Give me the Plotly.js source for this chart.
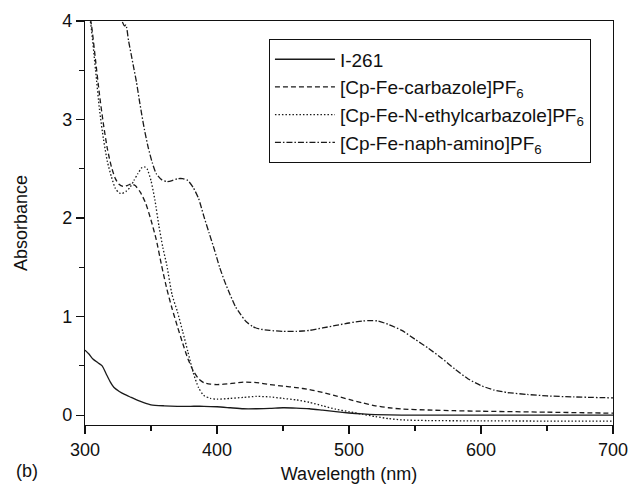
<!DOCTYPE html>
<html>
<head>
<meta charset="utf-8">
<script src="https://cdn.plot.ly/plotly-3.0.1.min.js"></script>
<style>
html,body{margin:0;padding:0;background:#fff;}
#chart{width:631px;height:489px;}
</style>
</head>
<body>
<div id="chart"></div>
<script>
// Series names
const seriesNames = ["I-261", "[Cp-Fe-carbazole]PF<sub>6</sub>", "[Cp-Fe-N-ethylcarbazole]PF<sub>6</sub>", "[Cp-Fe-naph-amino]PF<sub>6</sub>"];

// I-261 (solid)
const x_i261 = [300,303,306,310,313,316,319,322,326,330,335,340,345,350,360,370,380,390,400,410,420,430,440,450,460,470,480,490,500,510,520,540,600,700];
const y_i261 = [0.66,0.62,0.57,0.53,0.50,0.42,0.34,0.28,0.24,0.21,0.18,0.15,0.125,0.105,0.095,0.09,0.09,0.09,0.085,0.075,0.065,0.065,0.068,0.075,0.072,0.065,0.05,0.035,0.022,0.012,0.005,0.0,0.0,0.0];

// [Cp-Fe-carbazole]PF6 (dashed)
const x_carb = [303,305,308,311,314,317,320,323,326,329,332,335,338,342,346,350,354,358,362,366,370,374,378,382,386,390,395,400,410,420,430,440,450,460,470,480,490,500,510,520,530,540,560,580,600,650,700];
const y_carb = [4.1,3.95,3.6,3.25,2.95,2.7,2.52,2.40,2.34,2.32,2.33,2.345,2.33,2.26,2.15,1.98,1.78,1.52,1.28,1.08,0.90,0.73,0.57,0.45,0.37,0.33,0.315,0.31,0.32,0.335,0.33,0.31,0.295,0.28,0.26,0.23,0.195,0.16,0.125,0.095,0.075,0.062,0.052,0.045,0.04,0.03,0.02];

// [Cp-Fe-N-ethylcarbazole]PF6 (dotted)
const x_ethyl = [303,305,308,311,314,317,320,323,326,328,331,334,337,340,343,345,347,350,353,356,359,362,366,370,374,378,382,386,390,395,400,410,420,430,440,450,460,470,480,490,500,510,520,530,540,560,600,650,700];
const y_ethyl = [4.1,3.9,3.5,3.1,2.8,2.57,2.42,2.30,2.255,2.25,2.27,2.31,2.38,2.45,2.51,2.52,2.50,2.38,2.18,1.92,1.7,1.52,1.22,1.05,0.85,0.64,0.43,0.28,0.2,0.17,0.162,0.17,0.18,0.19,0.185,0.17,0.155,0.13,0.095,0.06,0.035,0.01,-0.015,-0.035,-0.048,-0.055,-0.058,-0.06,-0.06];

// [Cp-Fe-naph-amino]PF6 (dash-dot)
const x_naph = [326,328,330,331,333,335,337,339,341,343,345,348,351,354,358,362,366,370,374,378,382,386,390,394,398,402,406,410,414,418,422,427,432,440,450,460,470,480,490,500,510,516,522,530,540,550,560,570,580,590,600,610,620,635,650,670,700];
const y_naph = [4.1,4.0,3.95,3.96,3.80,3.66,3.52,3.38,3.21,3.05,2.90,2.71,2.56,2.45,2.39,2.37,2.38,2.40,2.40,2.38,2.31,2.2,2.02,1.85,1.68,1.5,1.35,1.22,1.10,1.02,0.95,0.9,0.875,0.86,0.85,0.85,0.86,0.885,0.91,0.935,0.955,0.96,0.955,0.92,0.86,0.77,0.68,0.58,0.47,0.37,0.3,0.255,0.23,0.21,0.195,0.185,0.175];

const xTicks = [300,400,500,600,700];
const yTicks = [0,1,2,3,4];

const FONT = "Liberation Sans, Arial, sans-serif";
const lineColor = "#1a1a1a";

const traces = [
  {x: x_i261, y: y_i261, name: seriesNames[0], mode: "lines", line: {color: lineColor, width: 1.3, dash: "solid", shape: "spline", smoothing: 0.6}},
  {x: x_carb, y: y_carb, name: seriesNames[1], mode: "lines", line: {color: lineColor, width: 1.3, dash: "5px,3px", shape: "spline", smoothing: 0.6}},
  {x: x_ethyl, y: y_ethyl, name: seriesNames[2], mode: "lines", line: {color: lineColor, width: 1.3, dash: "1.5px,2px", shape: "spline", smoothing: 0.6}},
  {x: x_naph, y: y_naph, name: seriesNames[3], mode: "lines", line: {color: lineColor, width: 1.3, dash: "6px,2px,1.5px,2px", shape: "spline", smoothing: 0.6}}
];

const layout = {
  width: 631, height: 489,
  margin: {l: 85, r: 18, t: 21, b: 64},
  paper_bgcolor: "#fff", plot_bgcolor: "#fff",
  font: {family: FONT, size: 17, color: "#111"},
  showlegend: true,
  legend: {
    x: 0.348, y: 0.955, xanchor: "left", yanchor: "top",
    bordercolor: "#111", borderwidth: 1.2, bgcolor: "#fff",
    font: {family: FONT, size: 19, color: "#111"},
    tracegroupgap: 0, itemwidth: 60
  },
  xaxis: {
    range: [300, 700], tickvals: xTicks, ticktext: xTicks.map(String),
    showline: true, linecolor: "#111", linewidth: 1.2, mirror: true,
    ticks: "outside", ticklen: 8, tickwidth: 1.2, tickcolor: "#111",
    minor: {dtick: 50, ticks: "outside", ticklen: 5, tickwidth: 1.2, tickcolor: "#111", showgrid: false},
    showgrid: false, zeroline: false,
    tickfont: {family: FONT, size: 18, color: "#111"},
    title: {text: "Wavelength (nm)", font: {family: FONT, size: 18, color: "#111"}, standoff: 8}
  },
  yaxis: {
    range: [-0.1, 4], tickvals: yTicks, ticktext: yTicks.map(String),
    showline: true, linecolor: "#111", linewidth: 1.2, mirror: true,
    ticks: "outside", ticklen: 8, tickwidth: 1.2, tickcolor: "#111",
    minor: {dtick: 0.5, tick0: 0, ticks: "outside", ticklen: 5, tickwidth: 1.2, tickcolor: "#111", showgrid: false},
    showgrid: false, zeroline: false,
    tickfont: {family: FONT, size: 18, color: "#111"},
    title: {text: "Absorbance", font: {family: FONT, size: 18, color: "#111"}, standoff: 29}
  },
  annotations: [
    {text: "(b)", xref: "paper", yref: "paper", x: -0.134, y: -0.085, xanchor: "left", yanchor: "top", showarrow: false, font: {family: FONT, size: 18, color: "#111"}}
  ]
};

Plotly.newPlot("chart", traces, layout, {displayModeBar: false, staticPlot: true});
</script>
</body>
</html>
